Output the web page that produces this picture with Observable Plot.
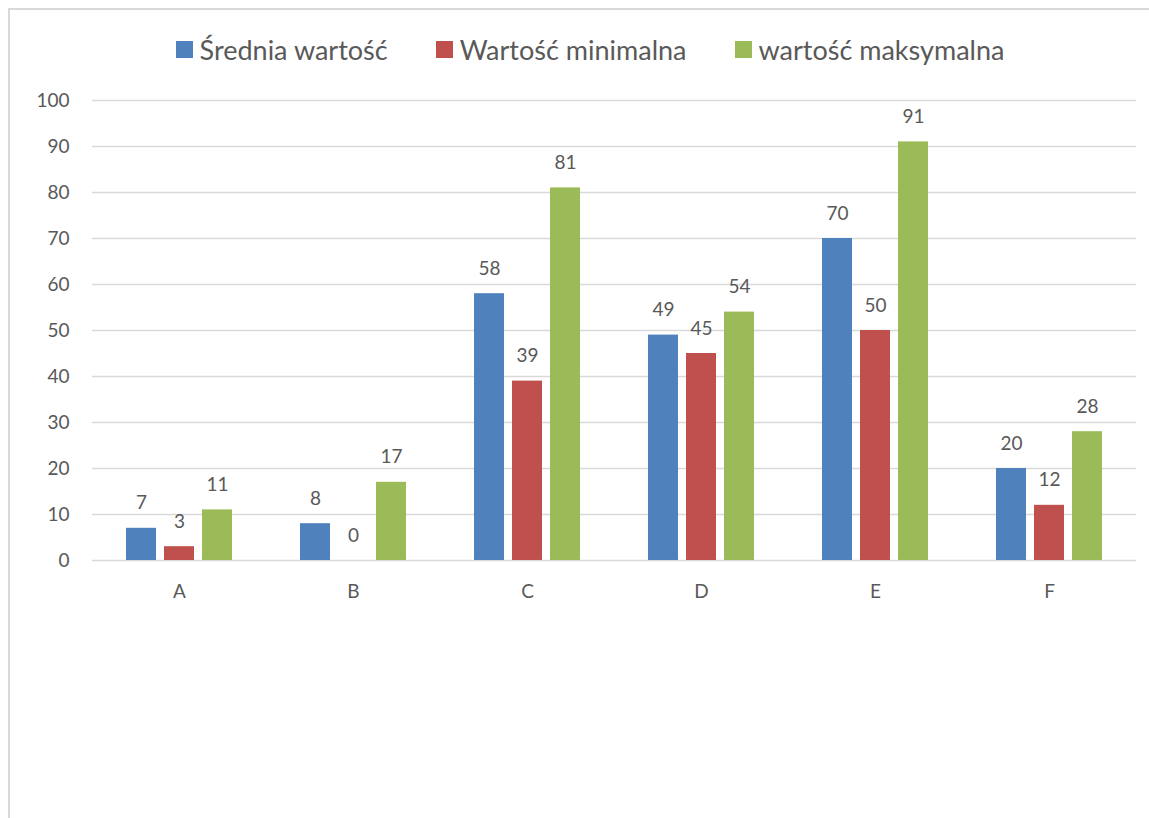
<!DOCTYPE html>
<html><head><meta charset="utf-8">
<script src="https://cdn.jsdelivr.net/npm/d3@7"></script>
<script src="https://cdn.jsdelivr.net/npm/@observablehq/plot@0.6"></script>
<style>
body{margin:0;background:#fff;font-family:Lato,"Open Sans",sans-serif;width:1149px;height:818px;overflow:hidden;position:relative;}
#frame{position:absolute;left:8px;top:8px;width:1200px;height:900px;border-left:2px solid #d9d9d9;border-top:2px solid #d9d9d9;}
#chart{position:absolute;left:0;top:0;}
#legend{position:absolute;top:33px;left:0;width:1180px;display:flex;justify-content:center;gap:48px;font-size:27px;color:#595959;}
#legend .item{display:flex;align-items:center;gap:7px;}
#legend .sw{width:17px;height:17px;display:inline-block;}
</style></head>
<body>
<div id="frame"></div>
<div id="chart"></div>
<div id="legend"></div>
<script>
const categories = ["A","B","C","D","E","F"];
const seriesNames = ["Średnia wartość","Wartość minimalna","wartość maksymalna"];
const seriesColors = ["#4F81BD","#C0504D","#9BBB59"];
const sredniaValues = [7, 8, 58, 49, 70, 20];
const minimalnaValues = [3, 0, 39, 45, 50, 12];
const maksymalnaValues = [11, 17, 81, 54, 91, 28];
const yTicks = [0,10,20,30,40,50,60,70,80,90,100];

const seriesValues = [sredniaValues, minimalnaValues, maksymalnaValues];
const data = [];
categories.forEach((c, i) => {
  seriesNames.forEach((s, j) => data.push({cat: c, series: s, value: seriesValues[j][i]}));
});

const plot = Plot.plot({
  width: 1149,
  height: 620,
  marginLeft: 90,
  marginRight: 11,
  marginTop: 100,
  marginBottom: 60,
  style: {fontFamily: "Lato, 'Open Sans', sans-serif", fontSize: "19px", color: "#595959", background: "transparent"},
  fx: {domain: categories, padding: 0, tickSize: 0, tickPadding: 24, label: null, axis: "bottom"},
  x: {domain: seriesNames, paddingInner: 0.21, paddingOuter: 0.85, axis: null},
  y: {domain: [0, 100], ticks: yTicks, tickSize: 0, tickPadding: 23, label: null},
  color: {domain: seriesNames, range: seriesColors},
  marks: [
    Plot.ruleY(yTicks, {stroke: "#d9d9d9", strokeWidth: 1.5}),
    Plot.barY(data, {fx: "cat", x: "series", y: "value", fill: "series"}),
    Plot.text(data, {fx: "cat", x: "series", y: "value", text: d => String(d.value), dy: -25, fontSize: 19, fill: "#595959"})
  ]
});
document.getElementById("chart").appendChild(plot);

const legend = document.getElementById("legend");
seriesNames.forEach((s, j) => {
  const it = document.createElement("div");
  it.className = "item";
  const sw = document.createElement("span");
  sw.className = "sw";
  sw.style.background = seriesColors[j];
  const t = document.createElement("span");
  t.textContent = s;
  it.appendChild(sw); it.appendChild(t);
  legend.appendChild(it);
});
</script>
</body></html>
